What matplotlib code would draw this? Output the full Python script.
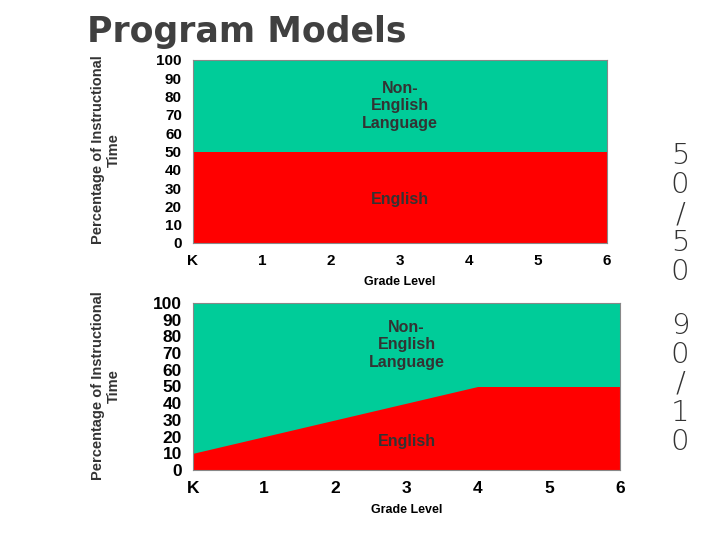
import matplotlib
matplotlib.use("Agg")
import matplotlib.pyplot as plt

grades = ["K", "1", "2", "3", "4", "5", "6"]
english_5050 = [50, 50, 50, 50, 50, 50, 50]
english_9010 = [10, 20, 30, 40, 50, 50, 50]
yticks = list(range(0, 101, 10))

GREEN = "#00CC99"
RED = "#FF0000"
F = "Liberation Sans"

fig = plt.figure(figsize=(7.2, 5.4), dpi=100)
fig.text(87/720, 1-32/540, "Program Models", fontsize=25, color="#404040",
         va="center", ha="left", family="DejaVu Sans", fontweight="semibold")

def panel(rect, eng, tsize, ylab_x, ylab_y, nonx, noney, engy):
    ax = fig.add_axes(rect)
    x = list(range(len(grades)))
    ax.fill_between(x, 0, 100, color=GREEN, lw=0)
    ax.fill_between(x, 0, eng, color=RED, lw=0)
    ax.set_xlim(0, 6); ax.set_ylim(0, 100)
    ax.set_xticks(x); ax.set_xticklabels(grades)
    ax.set_yticks(yticks)
    for lab in ax.get_xticklabels() + ax.get_yticklabels():
        lab.set_fontfamily(F); lab.set_fontweight("bold"); lab.set_fontsize(tsize)
    ax.tick_params(length=0, pad=8)
    for s in ax.spines.values():
        s.set_color("#888888"); s.set_linewidth(0.8)
    ax.set_xlabel("Grade Level", fontfamily=F, fontweight="bold", fontsize=9, labelpad=6)
    ax.text(nonx, noney, "Non-\nEnglish\nLanguage", ha="center", va="center",
            fontfamily=F, fontweight="bold", fontsize=11.5, color="#333333", linespacing=1.2)
    ax.text(nonx, engy, "English", ha="center", va="center",
            fontfamily=F, fontweight="bold", fontsize=11.5, color="#333333")
    fig.text(ylab_x, ylab_y, "Percentage of Instructional\nTime", rotation=90,
             ha="center", va="center", fontfamily=F, fontweight="bold", fontsize=10.5,
             color="#333333", multialignment="center")
    return ax

panel([193/720, 1-243/540, 414/720, 183/540], english_5050, 11, 106/720, 1-150/540, 3, 75, 24)
panel([193/720, 1-470/540, 427/720, 167/540], english_9010, 12.5, 106/720, 1-386/540, 3, 75, 17)

fig.text(680/720, 1-214/540, "5\n0\n/\n5\n0", ha="center", va="center",
         fontsize=21, color="#333333", family="DejaVu Sans", linespacing=1.05,
         fontweight="light")
fig.text(680/720, 1-384/540, "9\n0\n/\n1\n0", ha="center", va="center",
         fontsize=21, color="#333333", family="DejaVu Sans", linespacing=1.05,
         fontweight="light")

fig.savefig("out.png", dpi=100)
